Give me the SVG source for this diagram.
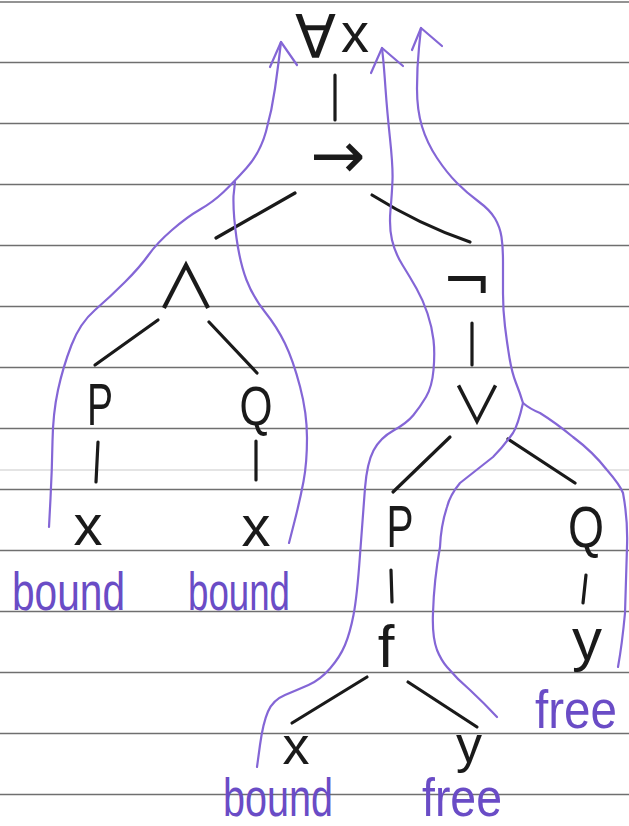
<svg xmlns="http://www.w3.org/2000/svg" width="629" height="826" viewBox="0 0 629 826">
<style>
.rule{stroke:#6f6f6f;stroke-width:1.7;fill:none}
.edge{stroke:#1a1a1a;stroke-width:3.2;stroke-linecap:round;fill:none}
.trace{stroke:#8466d6;stroke-width:2.2;stroke-linecap:round;stroke-linejoin:round;fill:none}
.lbl{font-family:"Liberation Sans","DejaVu Sans",sans-serif;fill:#1a1a1a;text-anchor:middle}
.sym{font-family:"DejaVu Sans","Liberation Sans",sans-serif;fill:#1a1a1a;text-anchor:middle}
.thin{font-family:"Noto Sans CJK JP","DejaVu Sans",sans-serif;fill:#1a1a1a;text-anchor:middle}
.note{font-family:"Liberation Sans","DejaVu Sans",sans-serif;fill:#6a4cc6;font-size:54px}
</style>
<rect width="629" height="826" fill="#ffffff"/>
<g id="paper">
<line class="rule" x1="0" y1="2" x2="629" y2="2"/>
<line class="rule" x1="0" y1="62.5" x2="629" y2="62.5"/>
<line class="rule" x1="0" y1="123.5" x2="629" y2="123.5"/>
<line class="rule" x1="0" y1="184.5" x2="629" y2="184.5"/>
<line class="rule" x1="0" y1="245.5" x2="629" y2="245.5"/>
<line class="rule" x1="0" y1="306.5" x2="629" y2="306.5"/>
<line class="rule" x1="0" y1="367.5" x2="629" y2="367.5"/>
<line class="rule" x1="0" y1="428.5" x2="629" y2="428.5"/>
<line class="rule" x1="0" y1="470" x2="629" y2="470" stroke-opacity="0.25"/>
<line class="rule" x1="0" y1="489.5" x2="629" y2="489.5"/>
<line class="rule" x1="0" y1="550.5" x2="629" y2="550.5"/>
<line class="rule" x1="0" y1="611.5" x2="629" y2="611.5"/>
<line class="rule" x1="0" y1="672.5" x2="629" y2="672.5"/>
<line class="rule" x1="0" y1="733.5" x2="629" y2="733.5"/>
<line class="rule" x1="0" y1="794.5" x2="629" y2="794.5"/>
</g>
<g id="connectors">
<path class="edge" d="M335,75 L335,120"/>
<path class="edge" d="M216,238 L295,193"/>
<path class="edge" d="M372,195 Q420,225 470,242"/>
<path class="edge" d="M158,320 L95,365"/>
<path class="edge" d="M209,322 L257,373"/>
<path class="edge" d="M98,442 L96,482"/>
<path class="edge" d="M256,441 L256,480"/>
<path class="edge" d="M472,323 L472,365"/>
<path class="edge" d="M450,437 L393,492"/>
<path class="edge" d="M508,439 L575,483"/>
<path class="edge" d="M391,570 L392,602"/>
<path class="edge" d="M586,575 L583,603"/>
<path class="edge" d="M367,677 L292,723"/>
<path class="edge" d="M408,682 L477,727"/>
</g>
<g id="scope-traces">
<path class="trace" d="M49,527 L50.5,498.5 Q52,470 52.5,441.5 Q53,413 58,390 Q63,367 71.5,345 Q80,323 95,310 Q110,297 125,282 Q140,267 148.5,255 Q157,243 172,230 Q187,217 200,209.5 Q213,202 223,192.5 Q233,183 246.5,168 Q260,153 266,131.5 Q272,110 275,88.5 Q278,67 279.5,54.5 L281,42"/>
<path class="trace" d="M289,543 L294.5,521.5 Q300,500 303.5,481.5 Q307,463 307,438 Q307,413 300,386.5 Q293,360 285,343.5 Q277,327 265,312 Q253,297 246.5,280 Q240,263 236.5,238 Q233,213 233.5,196 L235,182"/>
<path class="trace" d="M270,67 L281,42 L297,65"/>
<path class="trace" d="M257,767 L260,745 Q263,723 268,711.5 Q273,700 285,695 Q297,690 308.5,685 Q320,680 330,668.5 Q340,657 345,645 Q350,633 353.5,615 Q357,597 360,555 Q363,513 365,488 Q367,463 373.5,450.5 Q380,438 393.5,430.5 Q407,423 413.5,415 Q420,407 426,397 Q432,387 433.5,370 Q435,353 433.5,340 Q432,327 427.5,313.5 Q423,300 416.5,288.5 Q410,277 402.5,265 Q395,253 392,240 Q389,227 390.5,210 Q392,193 392.5,180 Q393,167 390,138.5 Q387,110 385.5,88.5 Q384,67 383,57.5 L382,48"/>
<path class="trace" d="M371,73 L382,48 L403,66"/>
<path class="trace" d="M421,28 L419,47.5 Q417,67 417,88.5 Q417,110 422,126.5 Q427,143 437,158 Q447,173 457,183 Q467,193 478.5,201.5 Q490,210 495,218.5 Q500,227 501.5,237 Q503,247 503,262 Q503,277 503,293.5 Q503,310 505,326.5 Q507,343 509.5,358 Q512,373 516,383 Q520,393 523,403"/>
<path class="trace" d="M523,403 Q530,409 540,413 Q556,423 573,437 Q593,452 607,470 Q620,485 623,493 Q628,520 627,547 Q626,580 625,613 Q622,645 618,667"/>
<path class="trace" d="M523,403 Q518,425 513,433 Q503,447 493,457 Q474,472 460,483 Q450,495 447,507 Q441,525 440,547 Q434,580 433,613 Q432,636 437,650 Q441,660 447,667 Q458,680 470,690 Q485,704 497,717"/>
<path class="trace" d="M412,50 L421,28 L442,46"/>
</g>
<g id="n-forall"><text class="sym" font-size="60" style="text-anchor:start"><tspan x="295" y="58">∀</tspan><tspan x="341" y="52" font-family="Liberation Sans, sans-serif" font-size="56">x</tspan></text></g>
<g id="n-implies"><text class="sym" x="338" y="178" font-size="66">→</text></g>
<g id="n-and"><text class="thin" x="186" y="309" font-size="62">∧</text></g>
<g id="n-not"><text class="sym" x="467" y="302" font-size="60">¬</text></g>
<g id="n-or"><text class="thin" x="477" y="424" font-size="52">∨</text></g>
<g id="n-P1"><text class="lbl" x="100" y="425" font-size="60" textLength="26" lengthAdjust="spacingAndGlyphs">P</text></g>
<g id="n-Q1"><text class="lbl" x="256" y="425" font-size="56" textLength="33" lengthAdjust="spacingAndGlyphs">Q</text></g>
<g id="n-x1"><text class="lbl" x="88" y="545" font-size="58">x</text></g>
<g id="n-x2"><text class="lbl" x="256" y="546" font-size="58">x</text></g>
<g id="n-P2"><text class="lbl" x="400" y="547" font-size="60" textLength="27" lengthAdjust="spacingAndGlyphs">P</text></g>
<g id="n-Q2"><text class="lbl" x="586" y="547" font-size="58" textLength="36" lengthAdjust="spacingAndGlyphs">Q</text></g>
<g id="n-f"><text class="lbl" x="386" y="667" font-size="60">f</text></g>
<g id="n-y1"><text class="lbl" x="587" y="660" font-size="60">y</text></g>
<g id="n-x3"><text class="lbl" x="296" y="764" font-size="54">x</text></g>
<g id="n-y2"><text class="lbl" x="469" y="762" font-size="52">y</text></g>
<g id="notes">
<text class="note" x="12" y="610" textLength="113" lengthAdjust="spacingAndGlyphs">bound</text>
<text class="note" x="188" y="610" textLength="102" lengthAdjust="spacingAndGlyphs">bound</text>
<text class="note" x="535" y="728" font-size="56" textLength="82" lengthAdjust="spacingAndGlyphs">free</text>
<text class="note" x="223" y="816" font-size="44" textLength="110" lengthAdjust="spacingAndGlyphs">bound</text>
<text class="note" x="422" y="816" font-size="44" textLength="80" lengthAdjust="spacingAndGlyphs">free</text>
</g>
</svg>
